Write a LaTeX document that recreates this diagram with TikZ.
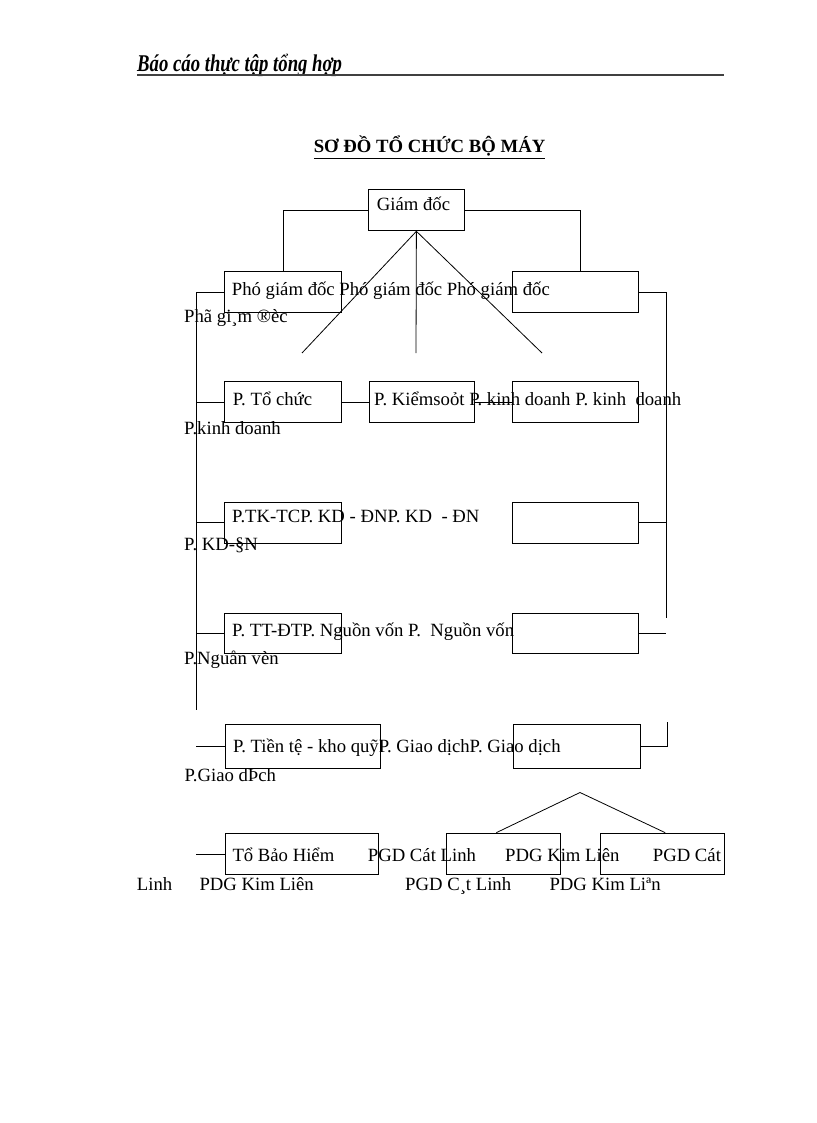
\documentclass[tikz,border=0pt]{standalone}
\usepackage{graphicx}
\usepackage{fontspec}
\setmainfont{Liberation Serif}

\begin{document}
\begin{tikzpicture}[x=1pt,y=-1pt, %Escala: 1 unidade = 1 pixel, y para baixo
	caixa/.style={draw, line width=0.8pt, inner sep=0pt, anchor=north west},
	texto/.style={anchor=base west, inner sep=0pt, font=\fontsize{18.7}{22}\selectfont},
	linha/.style={line width=0.8pt}]
		%Pagina
	\fill[white] (0,0) rectangle (816,1123);
	\useasboundingbox (0,0) rectangle (816,1123);
		%Cabecalho
	\node[anchor=base west, inner sep=0pt] (cab) at (137,72) {\scalebox{0.78}[1]{\fontsize{24}{28}\selectfont\bfseries\itshape Báo cáo thực tập tổng hợp}};
	\coordinate (rf) at (724,75);
	\draw[line width=1.3pt, black!75] (cab.base west) ++(0,3) -- (rf);
	\node[anchor=base, inner sep=0pt, font=\fontsize{18.7}{22}\selectfont\bfseries] (titulo) at (429.5,153) {\underline{SƠ ĐỒ TỔ CHỨC BỘ MÁY}};
		%Textos
	\node[texto] (t0) at (376.7,211) {Giám đốc};
	\node[texto] (t1) at (231.7,295) {Phó giám đốc Phó giám đốc Phó giám đốc};
	\node[texto] (t1b) at (184,322.7) {Phã gi¸m ®èc};
	\node[texto] (t2) at (232.7,405.5) {P. Tổ chức};
	\node[texto] (t2a) at (374,405.5) {P. Kiểmsoỏt P. kinh doanh P. kinh\ \ doanh};
	\node[texto] (t2b) at (184,434.5) {P.kinh doanh};
	\node[texto] (t3) at (232,522) {P.TK-TCP. KD - ĐNP. KD\ \ - ĐN};
	\node[texto] (t3b) at (184,550) {P. KD-§N};
	\node[texto] (t4) at (232,636) {P. TT-ĐTP. Nguồn vốn P.\ \ Nguồn vốn};
	\node[texto] (t4b) at (184,664) {P.Nguån vèn};
	\node[texto] (t5) at (232.8,752) {P. Tiền tệ - kho quỹP. Giao dịchP. Giao dịch};
	\node[texto] (t5b) at (184.4,781) {P.Giao dÞch};
	\node[texto] (t6) at (232.3,861.7) {Tổ Bảo Hiểm};
	\node[texto] (t6a) at (367.7,861.7) {PGD Cát Linh};
	\node[texto] (t6c) at (505,861.7) {PDG Kim Liên};
	\node[texto] (t6e) at (652.7,861.7) {PGD Cát};
	\node[texto] (t7) at (136.7,890.7) {Linh};
	\node[texto] (t7a) at (199.3,890.7) {PDG Kim Liên};
	\node[texto] (t7c) at (405,890.7) {PGD C¸t Linh};
	\node[texto] (t7e) at (549.3,890.7) {PDG Kim Liªn};
		%Caixas
	\node[caixa, minimum width=96, minimum height=41.5] (gd) at (368,189) {};
	\node[caixa, minimum width=117, minimum height=41] (pg1) at (224,271) {};
	\node[caixa, minimum width=126, minimum height=41] (pg3) at (512,271) {};
	\node[caixa, minimum width=117, minimum height=41] (tc) at (224,381) {};
	\node[caixa, minimum width=105, minimum height=41] (ks) at (369,381) {};
	\node[caixa, minimum width=126, minimum height=41] (kd) at (512,381) {};
	\node[caixa, minimum width=117, minimum height=40.5] (tk) at (224,502) {};
	\node[caixa, minimum width=126, minimum height=40.5] (kd2) at (512,502) {};
	\node[caixa, minimum width=117, minimum height=40.5] (tt) at (224,612.5) {};
	\node[caixa, minimum width=126, minimum height=40.5] (nv) at (512,612.5) {};
	\node[caixa, minimum width=155, minimum height=44] (tien) at (224.5,724) {};
	\node[caixa, minimum width=126.5, minimum height=44] (gdich) at (513,724) {};
	\node[caixa, minimum width=153.3, minimum height=41.6] (bh) at (225,832.7) {};
	\node[caixa, minimum width=114.3, minimum height=41.6] (pgd1) at (445.7,832.7) {};
	\node[caixa, minimum width=124.3, minimum height=41.6] (pgd2) at (599.7,832.7) {};
		%Ligacoes do diretor
	\draw[linha] (gd.west) -| (pg1.north);
	\draw[linha] (gd.east) -| ([xshift=5pt]pg3.north);
	\coordinate (d1) at (302,353);
	\coordinate (d2) at (416,353);
	\coordinate (d3) at (542,353);
	\draw[linha] (gd.south) -- (d1);
	\draw[linha] (gd.south) -- (d2);
	\draw[linha] (gd.south) -- (d3);
		%Barra esquerda
	\coordinate (et) at (196,292);
	\coordinate (eb) at (196,710);
	\draw[linha] (et) -- (eb);
	\draw[linha] (pg1.west) -- (pg1.west -| et);
	\draw[linha] (tc.west) -- (tc.west -| et);
	\draw[linha] (tk.west) -- (tk.west -| et);
	\draw[linha] (tt.west) -- (tt.west -| et);
	\draw[linha] (tien.west) -- (tien.west -| et);
	\draw[linha] (bh.west) -- (bh.west -| et);
		%Barra direita
	\coordinate (dt) at (666,292);
	\coordinate (db) at (666,618);
	\draw[linha] (dt) -- (db);
	\draw[linha] (pg3.east) -- (pg3.east -| dt);
	\draw[linha] (kd2.east) -- (kd2.east -| dt);
	\draw[linha] (nv.east) -- (nv.east -| dt);
	\coordinate (dg) at (667,722);
	\draw[linha] (gdich.east) -| (dg);
		%Linha do meio
	\draw[linha] (tc.east) -- (ks.west);
	\draw[linha] (ks.east) -- (kd.west);
		%Phong giao dich
	\coordinate (topo) at (580,792.5);
	\draw[linha] ([xshift=-7pt]pgd1.north) -- (topo) -- ([xshift=3pt]pgd2.north);
\end{tikzpicture}
\end{document}
